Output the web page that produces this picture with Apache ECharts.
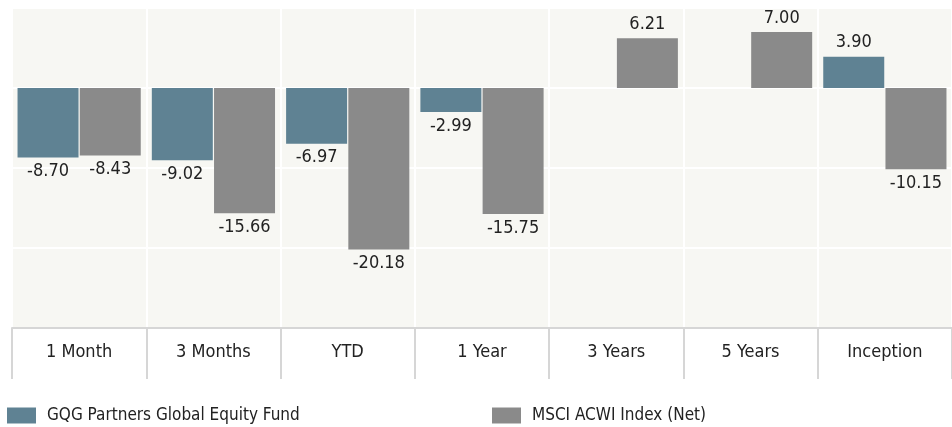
<!DOCTYPE html>
<html>
<head>
<meta charset="utf-8">
<script src="https://cdn.jsdelivr.net/npm/echarts@6/dist/echarts.min.js"></script>
<style>
  html, body { margin: 0; padding: 0; background: #fff; }
  #myChart { width: 952px; height: 427px; }
</style>
</head>
<body>
<div id="myChart"></div>
<script>
// categories and values
var periods = ['1 Month', '3 Months', 'YTD', '1 Year', '3 Years', '5 Years', 'Inception']
var fundName = 'GQG Partners Global Equity Fund'
var indexName = 'MSCI ACWI Index (Net)'
var fundValues = [-8.70, -9.02, -6.97, -2.99, null, null, 3.90]
var indexValues = [-8.43, -15.66, -20.18, -15.75, 6.21, 7.00, -10.15]

var FONT = '"Liberation Sans Narrow", "DejaVu Sans Condensed", sans-serif'

// put the label under negative bars and over positive ones
function withLabels (arr) {
  return arr.map(function (v) {
    if (v === null) return null
    return {
      value: v,
      label: { position: v < 0 ? 'bottom' : 'top' }
    }
  })
}

var barLabel = {
  show: true,
  distance: 5,
  color: '#222',
  fontSize: 18,
  fontFamily: FONT,
  formatter: function (p) { return p.value.toFixed(2) }
}

var legendBase = {
  top: 407,
  padding: 0,
  icon: 'rect',
  itemWidth: 29,
  itemHeight: 16,
  textStyle: { color: '#222', fontSize: 17, fontFamily: FONT, padding: [0, 0, 0, 6] }
}

var option = {
  animation: false,
  legend: [
    Object.assign({ left: 7, data: [fundName] }, legendBase),
    Object.assign({ left: 492, data: [indexName] }, legendBase)
  ],
  grid: {
    left: 12,
    right: -10,
    top: 8,
    bottom: 99,
    show: true,
    backgroundColor: '#f7f7f3',
    borderWidth: 0
  },
  xAxis: {
    type: 'category',
    data: periods,
    position: 'bottom',
    axisLine: { show: true, onZero: false, lineStyle: { color: '#d6d6d6', width: 2 } },
    axisTick: { show: true, length: 51, lineStyle: { color: '#d6d6d6', width: 2 } },
    axisLabel: { color: '#222', fontSize: 18, fontFamily: FONT, margin: 15 },
    splitLine: { show: true, lineStyle: { color: '#ffffff', width: 2 } }
  },
  yAxis: {
    type: 'value',
    min: -30,
    max: 10,
    interval: 10,
    axisLine: { show: false },
    axisTick: { show: false },
    axisLabel: { show: false },
    splitLine: { show: true, lineStyle: { color: '#ffffff', width: 2 } }
  },
  series: [
    {
      name: fundName,
      type: 'bar',
      barWidth: 61,
      barGap: '2%',
      itemStyle: { color: '#5f8293' },
      label: barLabel,
      data: withLabels(fundValues)
    },
    {
      name: indexName,
      type: 'bar',
      barWidth: 61,
      barGap: '2%',
      itemStyle: { color: '#8a8a8a' },
      label: barLabel,
      data: withLabels(indexValues)
    }
  ]
}

var myChart = echarts.init(document.getElementById('myChart'))
myChart.setOption(option)
window.onresize = myChart.resize
</script>
</body>
</html>
